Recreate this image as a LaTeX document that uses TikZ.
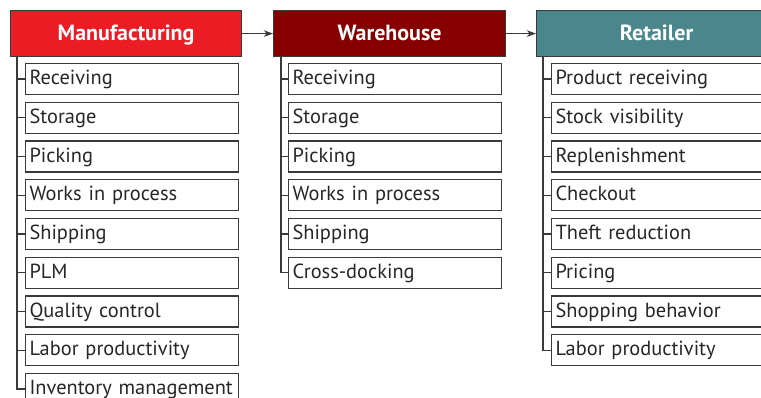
\documentclass[tikz,border=0pt]{standalone}
\usepackage{fontspec}
\setmainfont{PT Sans}
\usetikzlibrary{arrows.meta}
\definecolor{mfgred}{HTML}{EC1C24}
\definecolor{whred}{HTML}{870000}
\definecolor{retteal}{HTML}{4A868C}
\definecolor{linegray}{HTML}{3A3A3A}
\tikzset{
  hdr/.style={draw=linegray, line width=0.9pt, minimum height=46*0.75pt, inner sep=0pt, anchor=north west, text=white, text height=12pt, text depth=1.8pt, font=\fontsize{16.5}{19}\selectfont\bfseries},
  item/.style={draw=linegray, line width=0.8pt, minimum height=31*0.75pt, minimum width=213*0.75pt, inner xsep=4*0.75pt, inner ysep=0pt, anchor=north west, align=left, text width=205*0.75pt, text height=11pt, text depth=2.5pt, text=black!85, font=\fontsize{15.3}{18}\selectfont},
  trunk/.style={draw=linegray, line width=0.8pt},
  flow/.style={draw=linegray, line width=0.8pt, -{Stealth[length=7pt,width=5pt]}}
}
\begin{document}
\begin{tikzpicture}[x=0.75pt,y=-0.75pt]
\useasboundingbox (0,0) rectangle (761,398);
\clip (0,0) rectangle (761,398);
% headers
\node[hdr, fill=mfgred, minimum width=231*0.75pt] (mh) at (10,10) {Manufacturing};
\node[hdr, fill=whred, minimum width=232*0.75pt] (wh) at (273,10) {Warehouse};
\node[hdr, fill=retteal, minimum width=240*0.75pt] (rh) at (536,10) {Retailer};
\draw[flow] (mh.east) -- (wh.west);
\draw[flow] (wh.east) -- (rh.west);
% trunk tops
\coordinate (mt) at (17,56);
\coordinate (wt) at (281,56);
\coordinate (rt) at (543,56);
% Manufacturing items
\foreach \t [count=\i] in {Receiving,Storage,Picking,Works in process,Shipping,PLM,Quality control,Labor productivity,Inventory management}{
  \node[item] (m\i) at (25,{63+38.75*(\i-1)}) {\t};
  \draw[trunk] (m\i.west) -- (m\i.west -| mt);
}
\draw[trunk] (mt) |- (m9.west);
% Warehouse items
\foreach \t [count=\i] in {Receiving,Storage,Picking,Works in process,Shipping,Cross-docking}{
  \node[item] (w\i) at (288,{63+38.75*(\i-1)}) {\t};
  \draw[trunk] (w\i.west) -- (w\i.west -| wt);
}
\draw[trunk] (wt) |- (w6.west);
% Retailer items
\foreach \t [count=\i] in {Product receiving,Stock visibility,Replenishment,Checkout,Theft reduction,Pricing,Shopping behavior,Labor productivity}{
  \node[item] (r\i) at (551,{63+38.75*(\i-1)}) {\t};
  \draw[trunk] (r\i.west) -- (r\i.west -| rt);
}
\draw[trunk] (rt) |- (r8.west);
\end{tikzpicture}
\end{document}
